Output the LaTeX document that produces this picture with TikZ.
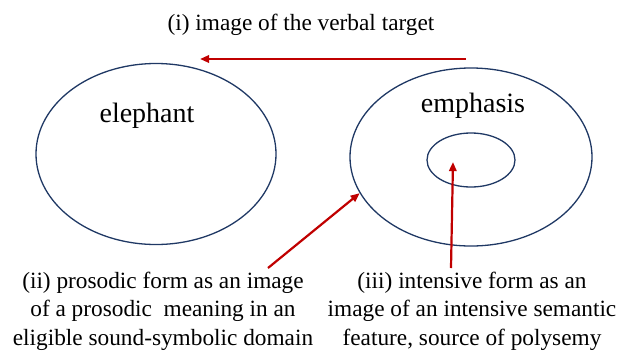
\documentclass[tikz,border=0pt]{standalone}
\usepackage{fontspec}
\setmainfont{Liberation Serif}
\usepackage{xcolor}
\definecolor{ringblue}{HTML}{1F3864}
\definecolor{arrowred}{HTML}{C00000}
\usetikzlibrary{positioning, arrows.meta, shapes.geometric}
\tikzset{
  >={Triangle[length=3.2mm, width=2.6mm]},
  ring/.style={ellipse, draw=ringblue, line width=1.3pt, inner sep=0pt},
  wordlabel/.style={font=\fontsize{28}{32}\selectfont, inner sep=0pt},
  notetext/.style={font=\fontsize{23.3}{28.5}\selectfont, align=center, inner sep=0pt},
  redarrow/.style={->, arrowred, line width=2.2pt}
}

\begin{document}
\begin{tikzpicture}[x=1pt, y=-1pt]
\useasboundingbox (0,0) rectangle (619,354);

% the two word domains
\node[ring, minimum width=240pt, minimum height=181pt] (eleph) at (156,154) {};
\node[ring, minimum width=242pt, minimum height=178pt] (emph) at (471,157) {};
\node[ring, minimum width=88pt, minimum height=54pt] (core) at (471,160) {};

\node[wordlabel] (elephw) at (147,116) {elephant};
\node[wordlabel] (emphw) at (473,106) {emphasis};

% notes
\node[notetext] (note1) at (301,25) {(i) image of the verbal target};
\node[notetext] (note2) at (163,311)
  {(ii) prosodic form as an image\\of a prosodic\ \ meaning in an\\eligible sound-symbolic domain};
\node[notetext] (note3) at (472,311)
  {(iii) intensive form as an\\image of an intensive semantic\\feature, source of polysemy};

% arrows
\coordinate (topstart) at (466,59);
\coordinate (topend) at (200,59);
\coordinate (coretip) at (453,162);
\draw[redarrow] (topstart) -- (topend);
\draw[redarrow] (268,268) -- (emph.198);
\draw[redarrow] (451,268) -- (coretip);

\end{tikzpicture}
\end{document}
